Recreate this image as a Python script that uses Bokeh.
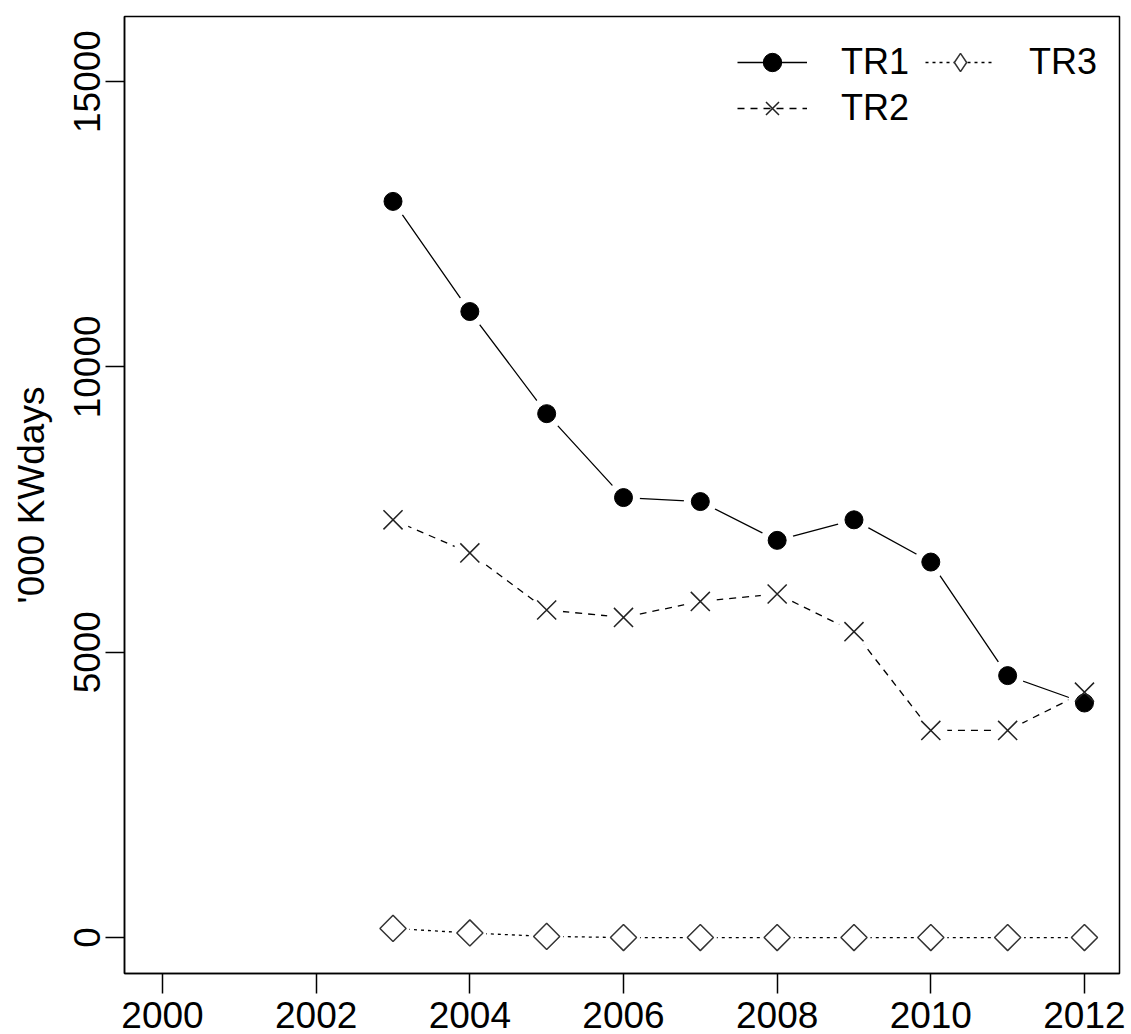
import math
from bokeh.plotting import figure
from bokeh.models import Range1d, FixedTicker, Legend, LegendItem
from bokeh.embed import file_html
from bokeh.resources import INLINE

# ---- data ----
years = [2003, 2004, 2005, 2006, 2007, 2008, 2009, 2010, 2011, 2012]
tr1 = [12900, 10970, 9180, 7710, 7640, 6960, 7320, 6580, 4590, 4110]
tr2 = [7320, 6740, 5740, 5610, 5890, 6020, 5360, 3630, 3630, 4300]
tr3 = [160, 80, 20, 0, 0, 0, 0, 0, 0, 0]
series_names = ["TR1", "TR2", "TR3"]
x_ticks = [2000, 2002, 2004, 2006, 2008, 2010, 2012]
y_ticks = [0, 5000, 10000, 15000]
y_label = "'000 KWdays"

FONT = "Liberation Sans"
FS = "37px"

p = figure(width=1131, height=1034, output_backend="svg", toolbar_location=None,
           x_range=Range1d(1999.505, 2012.456), y_range=Range1d(-630, 16140),
           min_border_left=124, min_border_right=12, min_border_top=16, min_border_bottom=61)

p.background_fill_color = "white"
p.border_fill_color = "white"
p.outline_line_color = "black"
p.outline_line_width = 1.5
p.xgrid.visible = False
p.ygrid.visible = False

# axes
for ax in (p.xaxis[0], p.yaxis[0]):
    ax.axis_line_color = "black"
    ax.axis_line_width = 1.5
    ax.major_tick_line_color = "black"
    ax.major_tick_line_width = 1.5
    ax.major_tick_in = 0
    ax.minor_tick_line_color = None
    ax.major_label_text_font = FONT
    ax.major_label_text_font_size = FS
    ax.major_label_text_color = "black"

p.xaxis[0].ticker = FixedTicker(ticks=x_ticks)
p.xaxis[0].major_tick_out = 20
p.xaxis[0].major_label_standoff = 8

p.yaxis[0].ticker = FixedTicker(ticks=y_ticks)
p.yaxis[0].major_tick_out = 19
p.yaxis[0].major_label_standoff = 5
p.yaxis[0].major_label_orientation = "vertical"
p.yaxis[0].axis_label = y_label
p.yaxis[0].axis_label_text_font = FONT
p.yaxis[0].axis_label_text_font_size = FS
p.yaxis[0].axis_label_text_font_style = "normal"
p.yaxis[0].axis_label_text_color = "black"
p.yaxis[0].axis_label_standoff = 20

# lines
l1 = p.line(years, tr1, line_color="black", line_width=1.3)
l2 = p.line(years, tr2, line_color="black", line_width=1.3, line_dash="7 6")
l3 = p.line(years, tr3, line_color="black", line_width=1.3, line_dash="3 4")

# white halos to give the R "type='b'" gaps around points
for ys in (tr1, tr2, tr3):
    p.scatter(years, ys, marker="circle", size=33, fill_color="white", line_color=None)

# markers
s1 = p.scatter(years, tr1, marker="circle", size=18, fill_color="black", line_color="black", line_width=1)
s2 = p.scatter(years, tr2, marker="x", size=27, line_color="#222222", line_width=1.5)
s3 = p.scatter(years, tr3, marker="square", size=18.5, angle=math.pi / 4,
               fill_color=None, line_color="#333333", line_width=1.5)
# legend-only symbol for TR3 (legend glyphs ignore marker angle)
s3_key = p.scatter(years, tr3, marker="diamond", size=26, fill_color="white",
                   line_color="#333333", line_width=1.5, visible=False)

legend = Legend(items=[LegendItem(label=series_names[0], renderers=[l1, s1]),
                       LegendItem(label=series_names[1], renderers=[l2, s2]),
                       LegendItem(label=series_names[2], renderers=[l3, s3_key])],
                location=(613, 842), ncols=2,
                glyph_width=70, glyph_height=46, label_height=46, label_width=84,
                label_standoff=34, spacing=0, padding=0, margin=0,
                border_line_color=None, background_fill_alpha=0,
                label_text_font=FONT, label_text_font_size="36px",
                label_text_color="black")
p.add_layout(legend)

open("out.html", "w").write(file_html(p, INLINE))
